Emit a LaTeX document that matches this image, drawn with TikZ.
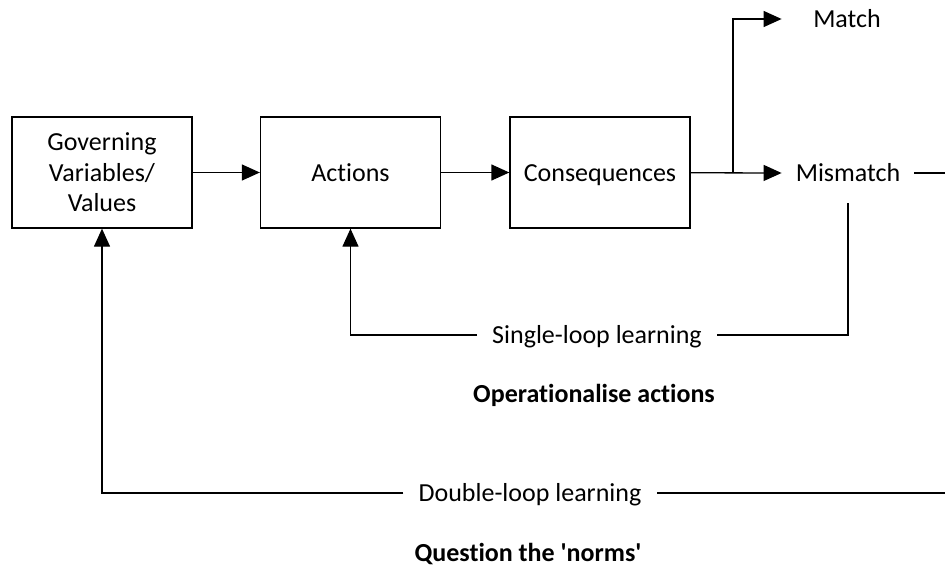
\documentclass[tikz,border=0pt]{standalone}
\usepackage{fontspec}
\setmainfont{Carlito}[Ligatures=NoCommon]
\usetikzlibrary{arrows.meta}
\begin{document}
\begin{tikzpicture}[x=1pt,y=-1pt,
  every node/.style={font=\fontsize{26}{30.5}\selectfont},
  blockbox/.style={draw, line width=1.3pt, minimum width=180pt, minimum height=111pt, align=center, inner sep=0pt},
  oneline/.style={text height=17pt, text depth=0pt},
  flow/.style={line width=1.3pt, -{Triangle[length=18pt,width=16pt]}},
  plain/.style={line width=1.3pt},
  looplabel/.style={oneline, inner xsep=15pt, inner ysep=0pt},
  outcome/.style={oneline, inner xsep=14pt, inner ysep=0pt, minimum height=60pt},
  caption/.style={oneline, inner sep=0pt, font=\fontsize{26}{30}\selectfont\bfseries}]
\useasboundingbox (0,0) rectangle (945,566);

% main chain of blocks
\node[blockbox] (gov)  at (102,172.5) {Governing\\Variables/\\Values};
\node[blockbox, oneline] (act)  at (350.5,172.5) {Actions};
\node[blockbox, oneline] (cons) at (600,172.5) {Consequences};

% outcomes
\node[outcome] (mismatch) at (848,173) {Mismatch};
\node[outcome] (match)    at (847,19)  {Match};

\coordinate (split) at (733,173);
\coordinate (mexit) at (945,173);
\coordinate (dexit) at (945,493);

% forward flow
\draw[flow] (gov) -- (act);
\draw[flow] (act) -- (cons);
\draw[flow] (cons) -- (mismatch.west);
\draw[flow] (split) |- (mismatch.west |- match);
\draw[plain] (mismatch.east) -- (mexit);

% single loop
\node[looplabel] (single) at (597,335) {Single-loop learning};
\draw[plain] (mismatch.south) |- (single.east);
\draw[flow] (single.west) -| (act.south);
\node[caption] (oper) at (594,394) {Operationalise actions};

% double loop
\node[looplabel] (double) at (530,493) {Double-loop learning};
\draw[plain] (dexit) -- (double.east);
\draw[flow] (double.west) -| (gov.south);
\node[caption] (norms) at (528,553) {Question the \textquotesingle norms\textquotesingle};
\end{tikzpicture}
\end{document}
